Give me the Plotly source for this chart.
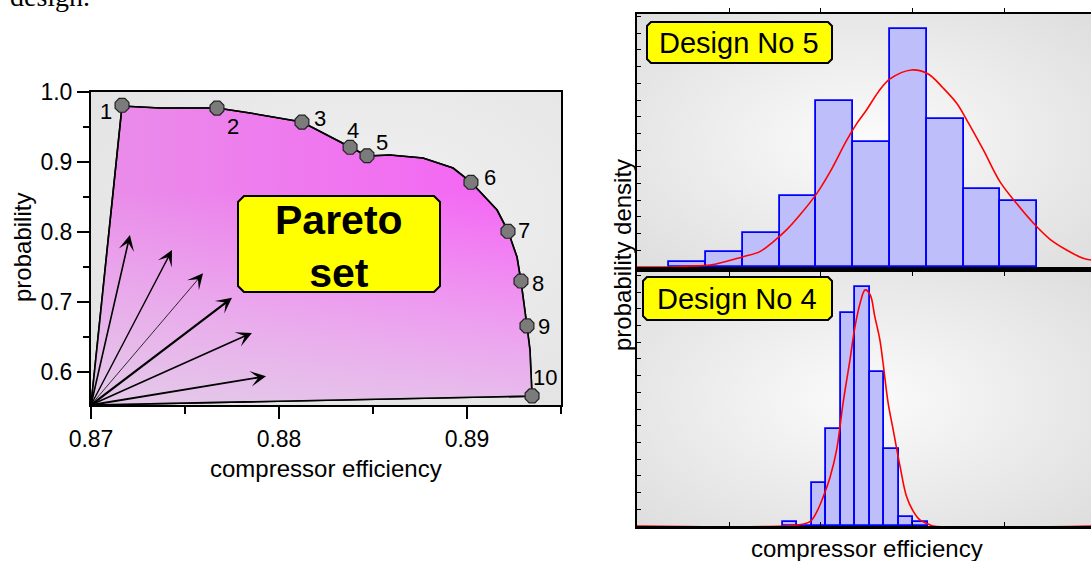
import base64
import plotly.graph_objects as go

# ---------------- data ----------------
# Pareto optimal designs (left chart)
pareto_labels = ["1", "2", "3", "4", "5", "6", "7", "8", "9", "10"]
pareto_eff = [0.87165, 0.8767, 0.88122, 0.88378, 0.88468, 0.89021, 0.89218, 0.89287, 0.89319, 0.89346]
pareto_prob = [0.981, 0.977, 0.957, 0.921, 0.909, 0.871, 0.801, 0.730, 0.666, 0.566]

# boundary of the shaded Pareto region (origin -> frontier -> origin)
region_eff = [0.87, 0.87165, 0.87367, 0.8767, 0.87846, 0.88005, 0.88122, 0.88378, 0.88468, 0.8859,
              0.88766, 0.88926, 0.89021, 0.8916, 0.89218, 0.89266, 0.89287, 0.89319, 0.89335, 0.89346, 0.87]
region_prob = [0.553, 0.980, 0.9771, 0.9771, 0.970, 0.9629, 0.9571, 0.9214, 0.9086, 0.910,
               0.9057, 0.8914, 0.8714, 0.8314, 0.8014, 0.7643, 0.730, 0.6657, 0.6314, 0.5657, 0.553]

# search-direction arrows
arrow_origin = (0.87, 0.553)
arrow_tip_eff = [0.87207, 0.87431, 0.87596, 0.8775, 0.87856, 0.87931]
arrow_tip_prob = [0.7957, 0.7743, 0.741, 0.706, 0.656, 0.594]

# Design No 5 histogram
d5_bin_start = 0.8787
d5_bin_width = 0.0008
d5_heights = [0.30, 0.90, 2.04, 4.25, 9.94, 7.49, 14.25, 8.86, 4.67, 3.95]
d5_pdf_x = [0.878, 0.87872, 0.87915, 0.87959, 0.88031, 0.88067, 0.88096, 0.88125, 0.88154, 0.88191,
            0.8822, 0.88256, 0.88278, 0.88299, 0.88325, 0.8835, 0.88397, 0.88433, 0.88466, 0.88495,
            0.88517, 0.88553, 0.88589, 0.88625, 0.88662, 0.88698, 0.88734, 0.8877, 0.88787]
d5_pdf_y = [0.0, 0.0, 0.06, 0.12, 0.62, 0.92, 1.51, 2.22, 3.11, 4.41,
            5.71, 7.60, 8.60, 9.40, 10.50, 11.26, 11.80, 11.56, 10.70, 9.80,
            8.80, 7.01, 5.11, 3.81, 2.62, 1.66, 1.02, 0.52, 0.42]

# Design No 4 histogram
d4_bin_start = 0.88117
d4_bin_width = 0.000315
d4_heights = [0.26, 0.0, 2.56, 5.79, 12.74, 14.29, 9.24, 4.59, 0.52, 0.26]
d4_pdf_x = [0.878, 0.88147, 0.88176, 0.88191, 0.88205, 0.8822, 0.88234, 0.88248, 0.88263, 0.88274,
            0.88285, 0.88296, 0.88307, 0.88317, 0.88328, 0.88335, 0.88346, 0.88357, 0.88372, 0.88386,
            0.88401, 0.88415, 0.88433, 0.88444, 0.88787]
d4_pdf_y = [0.0, 0.06, 0.26, 0.86, 1.76, 2.95, 4.55, 7.35, 9.94, 11.94,
            13.33, 14.13, 13.83, 12.53, 11.14, 9.74, 7.35, 5.75, 3.55, 1.76,
            0.86, 0.36, 0.12, 0.0, 0.0]

# unlabeled efficiency ticks of the histogram panels
hist_ticks = [0.880, 0.882, 0.884, 0.886]

# ---------------- layout helpers ----------------
W, H = 1091, 561
FONT = "Liberation Sans, Arial, sans-serif"


def px(x):
    return x / W


def py(y):
    return 1 - y / H


def chamfer_path(x0, y0, x1, y1, c=5):
    pts = [(x0 + c, y0), (x1 - c, y0), (x1, y0 + c), (x1, y1 - c), (x1 - c, y1),
           (x0 + c, y1), (x0, y1 - c), (x0, y0 + c)]
    s = "M " + " L ".join(f"{px(a):.5f},{py(b):.5f}" for a, b in pts) + " Z"
    return s


def radial_svg(inner, outer, cx="50%", cy="50%", r="65%"):
    svg = (f"<svg xmlns='http://www.w3.org/2000/svg' viewBox='0 0 100 100' preserveAspectRatio='none'>"
           f"<defs><radialGradient id='g' cx='{cx}' cy='{cy}' r='{r}'>"
           f"<stop offset='0' stop-color='{inner}'/><stop offset='1' stop-color='{outer}'/>"
           f"</radialGradient></defs><rect width='100' height='100' fill='url(#g)'/></svg>")
    return "data:image/svg+xml;base64," + base64.b64encode(svg.encode()).decode()


fig = go.Figure()

# ---------------- left chart ----------------
fig.add_trace(go.Scatter(
    x=region_eff, y=region_prob, mode="lines", fill="toself",
    fillgradient=dict(type="horizontal", colorscale=[[0, "#e98ee9"], [1, "#f562f5"]],
                      start=0.87, stop=0.8935),
    line=dict(color="black", width=1.6), hoverinfo="skip", showlegend=False,
    xaxis="x", yaxis="y"))
fig.add_trace(go.Scatter(
    x=region_eff, y=region_prob, mode="lines", fill="toself",
    fillgradient=dict(type="vertical",
                      colorscale=[[0, "rgba(225,225,232,0.72)"], [1, "rgba(235,235,240,0)"]],
                      start=0.553, stop=0.86),
    line=dict(color="black", width=1.6), hoverinfo="skip", showlegend=False,
    xaxis="x", yaxis="y"))
fig.add_trace(go.Scatter(
    x=pareto_eff, y=pareto_prob, mode="markers",
    marker=dict(symbol="octagon", size=15, color="#7b7b7b", line=dict(color="#222", width=1.2)),
    hoverinfo="skip", showlegend=False, xaxis="x", yaxis="y"))

# ---------------- right charts ----------------
d5_centers = [d5_bin_start + (i + 0.5) * d5_bin_width for i in range(len(d5_heights))]
d4_centers = [d4_bin_start + (i + 0.5) * d4_bin_width for i in range(len(d4_heights))]
bar_style = dict(marker=dict(color="#bebefa", line=dict(color="#0000ff", width=1.8)),
                 hoverinfo="skip", showlegend=False)
fig.add_trace(go.Bar(x=d5_centers, y=d5_heights, width=[d5_bin_width] * len(d5_heights),
                     xaxis="x2", yaxis="y2", **bar_style))
fig.add_trace(go.Scatter(x=d5_pdf_x, y=d5_pdf_y, mode="lines", line=dict(color="#ff0000", width=1.6),
                         line_shape="spline", hoverinfo="skip", showlegend=False, xaxis="x2", yaxis="y2"))
fig.add_trace(go.Bar(x=d4_centers, y=d4_heights, width=[d4_bin_width] * len(d4_heights),
                     xaxis="x3", yaxis="y3", **bar_style))
fig.add_trace(go.Scatter(x=d4_pdf_x, y=d4_pdf_y, mode="lines", line=dict(color="#ff0000", width=1.6),
                         line_shape="spline", hoverinfo="skip", showlegend=False, xaxis="x3", yaxis="y3"))

# ---------------- axes ----------------
tickfont = dict(family=FONT, size=23, color="black")
fig.update_layout(
    xaxis=dict(domain=[px(91), px(561)], range=[0.87, 0.895], anchor="y",
               tickvals=[0.87, 0.88, 0.89], ticktext=["0.87", "0.88", "0.89"],
               ticks="outside", ticklen=12, tickwidth=1.5, tickcolor="black",
               minor=dict(dtick=0.005, tick0=0.87, ticks="outside", ticklen=7, tickwidth=1.5, tickcolor="black"),
               showline=True, linecolor="black", linewidth=2, mirror=True,
               showgrid=False, zeroline=False, tickfont=tickfont),
    yaxis=dict(domain=[py(405), py(92)], range=[0.553, 1.0], anchor="x",
               tickvals=[0.6, 0.7, 0.8, 0.9, 1.0], ticktext=["0.6", "0.7", "0.8", "0.9", "1.0"],
               ticks="outside", ticklen=12, tickwidth=1.5, tickcolor="black",
               minor=dict(dtick=0.05, tick0=0.55, ticks="outside", ticklen=6, tickwidth=1.5, tickcolor="black"),
               showline=True, linecolor="black", linewidth=2, mirror=True,
               showgrid=False, zeroline=False, tickfont=tickfont),
    xaxis2=dict(domain=[px(637), 1], range=[0.878, 0.88787], anchor="y2",
                tickvals=hist_ticks, ticks="outside", ticklen=4, tickcolor="black",
                showticklabels=False, showline=True, linecolor="black", linewidth=2, mirror="ticks",
                showgrid=False, zeroline=False),
    yaxis2=dict(domain=[py(267), py(14)], range=[0, 15.15], anchor="x2",
                dtick=1, ticks="inside", ticklen=4, tickcolor="black", showticklabels=False,
                showline=True, linecolor="black", linewidth=2, showgrid=False, zeroline=False),
    xaxis3=dict(domain=[px(637), 1], range=[0.878, 0.88787], anchor="y3",
                tickvals=hist_ticks, ticks="inside", ticklen=4, tickcolor="black",
                showticklabels=False, showline=True, linecolor="black", linewidth=2.5, mirror="ticks",
                showgrid=False, zeroline=False),
    yaxis3=dict(domain=[py(526), py(272)], range=[0, 15.2], anchor="x3",
                dtick=1, ticks="inside", ticklen=4, tickcolor="black", showticklabels=False,
                showline=True, linecolor="black", linewidth=2, showgrid=False, zeroline=False),
)

# ---------------- backgrounds ----------------
images = [
    dict(source=radial_svg("#f1f1f1", "#e3e3e3", cx="60%", cy="40%", r="75%"), xref="paper", yref="paper",
         x=px(91), y=py(92), sizex=px(561) - px(91), sizey=(405 - 92) / H,
         xanchor="left", yanchor="top", sizing="stretch", layer="below"),
    dict(source=radial_svg("#fbfbfb", "#dedede", cx="50%", cy="50%", r="70%"), xref="paper", yref="paper",
         x=px(637), y=py(14), sizex=1 - px(637), sizey=(267 - 14) / H,
         xanchor="left", yanchor="top", sizing="stretch", layer="below"),
    dict(source=radial_svg("#fbfbfb", "#dedede", cx="50%", cy="50%", r="70%"), xref="paper", yref="paper",
         x=px(637), y=py(272), sizex=1 - px(637), sizey=(526 - 272) / H,
         xanchor="left", yanchor="top", sizing="stretch", layer="below"),
]

# ---------------- shapes (label boxes) ----------------
box_style = dict(type="path", xref="paper", yref="paper", fillcolor="#ffff00",
                 line=dict(color="black", width=2), layer="above")
shapes = [
    dict(path=chamfer_path(238, 196, 440, 292, 6), **box_style),
    dict(path=chamfer_path(647, 22, 832, 63, 4), **box_style),
    dict(path=chamfer_path(643, 277, 832, 320, 4), **box_style),
]

# ---------------- annotations ----------------
ann = []
label_shift = [(-16, -6), (16, -18), (18, 4), (3, 17), (15, 13), (19, 5), (16, 1), (17, -2), (17, -1), (13, 18)]
for lab, xv, yv, (dx, dy) in zip(pareto_labels, pareto_eff, pareto_prob, label_shift):
    ann.append(dict(x=xv, y=yv, xref="x", yref="y", text=lab, showarrow=False,
                    xanchor="center", yanchor="middle",
                    xshift=dx, yshift=dy, font=dict(family=FONT, size=22, color="black")))

arrow_widths = [1.6, 1.4, 0.8, 2.2, 1.6, 1.8]
for tx, ty, w in zip(arrow_tip_eff, arrow_tip_prob, arrow_widths):
    ann.append(dict(x=tx, y=ty, ax=arrow_origin[0], ay=arrow_origin[1], xref="x", yref="y",
                    axref="x", ayref="y", text="", showarrow=True, arrowhead=3,
                    arrowsize=2.6 / w, arrowwidth=w, arrowcolor="black"))


def txt(x, y, text, size, angle=0, family=FONT, xa="center", ya="middle"):
    return dict(x=px(x), y=py(y), xref="paper", yref="paper", text=text, showarrow=False,
                xanchor=xa, yanchor=ya, textangle=angle, align="center",
                font=dict(family=family, size=size, color="black"))


ann += [
    txt(339, 246, "<b>Pareto<br>set</b>", 41),
    txt(739, 43, "Design No 5", 29),
    txt(737, 299, "Design No 4", 29),
    txt(326, 468, "compressor efficiency", 24),
    txt(22, 248, "probability", 24, angle=-90),
    txt(867, 548, "compressor efficiency", 24),
    txt(622, 255, "probability density", 24, angle=-90),
    txt(8, 14, "design.", 28, family="Liberation Serif, Times New Roman, serif", xa="left", ya="bottom"),
]

fig.update_layout(
    width=W, height=H, margin=dict(l=0, r=0, t=0, b=0, pad=0, autoexpand=False),
    paper_bgcolor="white", plot_bgcolor="rgba(0,0,0,0)",
    images=images, shapes=shapes, annotations=ann, bargap=0, showlegend=False,
    font=dict(family=FONT, color="black"),
)

fig.write_html("out.html", config={"displayModeBar": False},
               post_script="document.body.style.margin='0';document.body.style.overflow='hidden';")
